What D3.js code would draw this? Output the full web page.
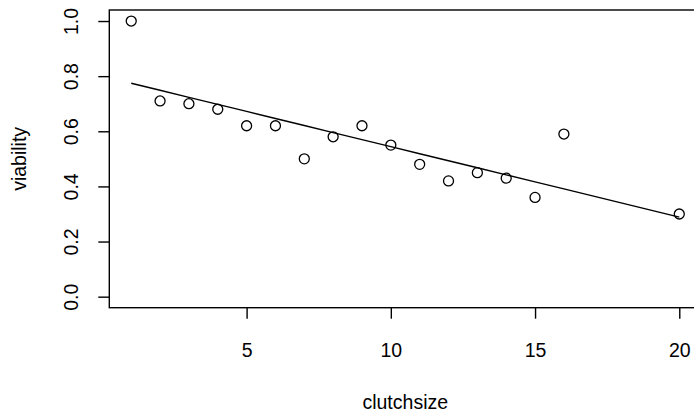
<!DOCTYPE html>
<html>
<head>
<meta charset="utf-8">
<script src="https://cdn.jsdelivr.net/npm/d3@7"></script>
<style>
  body { margin: 0; background: #fff; }
  svg text { font-family: "Liberation Sans", Arial, sans-serif; fill: #000; }
</style>
</head>
<body>
<svg id="chart" width="694" height="416"></svg>
<script>
// data
const clutchsize = [1, 2, 3, 4, 5, 6, 7, 8, 9, 10, 11, 12, 13, 14, 15, 16, 20]
const viability = [1.00, 0.71, 0.70, 0.68, 0.62, 0.62, 0.50, 0.58, 0.62, 0.55, 0.48, 0.42, 0.45, 0.43, 0.36, 0.59, 0.30]
const xTicks = [5, 10, 15, 20]
const yTicks = [0, 0.2, 0.4, 0.6, 0.8, 1.0]

const W = 694, H = 416
const box = { left: 109.3, right: 701.2, top: 10, bottom: 307.7 }
const fontSize = 19.5

const svg = d3.select('#chart')

// R style 4% padding
const xr = d3.extent(clutchsize)
const xpad = (xr[1] - xr[0]) * 0.04
const x = d3.scaleLinear().domain([xr[0] - xpad, xr[1] + xpad]).range([box.left, box.right])
const y = d3.scaleLinear().domain([-0.04, 1.04]).range([box.bottom, box.top])

// least squares fit
const mx = d3.mean(clutchsize), my = d3.mean(viability)
const sxy = d3.sum(clutchsize, (d, i) => (d - mx) * (viability[i] - my))
const sxx = d3.sum(clutchsize, d => (d - mx) * (d - mx))
const slope = sxy / sxx
const intercept = my - slope * mx
const fitted = clutchsize.map(d => ({ x: d, y: intercept + slope * d }))

// box
svg.append('rect')
  .attr('x', box.left).attr('y', box.top)
  .attr('width', box.right - box.left).attr('height', box.bottom - box.top)
  .attr('fill', 'none').attr('stroke', '#000').attr('stroke-width', 1.4)

// x axis
const xAxis = svg.append('g').attr('transform', `translate(0,${box.bottom})`)
  .call(d3.axisBottom(x).tickValues(xTicks).tickSize(11).tickSizeOuter(0).tickFormat(d3.format('d')))
xAxis.select('.domain').remove()
xAxis.selectAll('line').attr('stroke', '#000').attr('stroke-width', 1.4)
xAxis.selectAll('text').attr('y', 0).attr('dy', 0)
  .attr('transform', 'translate(0,49)')
  .style('font-size', fontSize + 'px').style('font-family', '"Liberation Sans", Arial, sans-serif')

// y axis
const yAxis = svg.append('g').attr('transform', `translate(${box.left},0)`)
  .call(d3.axisLeft(y).tickValues(yTicks).tickSize(11).tickSizeOuter(0).tickFormat(d3.format('.1f')))
yAxis.select('.domain').remove()
yAxis.selectAll('line').attr('stroke', '#000').attr('stroke-width', 1.4)
yAxis.selectAll('text')
  .attr('x', 0).attr('dy', 0)
  .attr('text-anchor', 'middle')
  .attr('transform', `translate(${78 - box.left},0) rotate(-90)`)
  .style('font-size', fontSize + 'px').style('font-family', '"Liberation Sans", Arial, sans-serif')

// axis titles
svg.append('text')
  .attr('x', (box.left + box.right) / 2).attr('y', 409)
  .attr('text-anchor', 'middle').style('font-size', fontSize + 'px')
  .text('clutchsize')

svg.append('text')
  .attr('transform', `translate(26,${(box.top + box.bottom) / 2}) rotate(-90)`)
  .attr('text-anchor', 'middle').style('font-size', fontSize + 'px')
  .text('viability')

// fit line
const line = d3.line().x(d => x(d.x)).y(d => y(d.y))
svg.append('path')
  .datum(fitted)
  .attr('d', line)
  .attr('fill', 'none').attr('stroke', '#000').attr('stroke-width', 1.4)

// points
svg.selectAll('.pt')
  .data(clutchsize.map((d, i) => ({ x: d, y: viability[i] })))
  .enter()
  .append('circle')
  .attr('class', 'pt')
  .attr('cx', d => x(d.x))
  .attr('cy', d => y(d.y))
  .attr('r', 5)
  .attr('fill', 'none').attr('stroke', '#000').attr('stroke-width', 1.3)
</script>
</body>
</html>
